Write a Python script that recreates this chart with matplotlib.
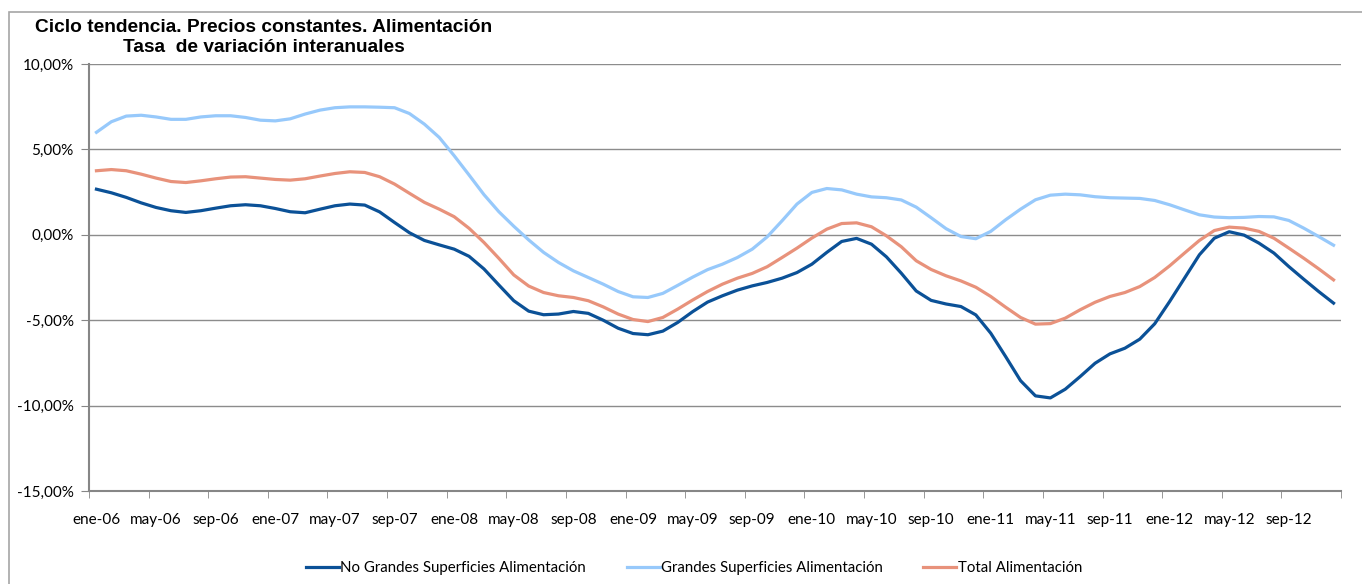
import numpy as np
import matplotlib.pyplot as plt
from matplotlib.patches import Rectangle

# datos: ene-06 .. dic-12 (84 meses)
meses = ['ene', 'feb', 'mar', 'abr', 'may', 'jun', 'jul', 'ago', 'sep', 'oct', 'nov', 'dic']
anios = ['06', '07', '08', '09', '10', '11', '12']
etiquetas = [m + '-' + a for a in anios for m in meses]

no_grandes = [2.67, 2.46, 2.19, 1.87, 1.60, 1.41, 1.31, 1.41, 1.56, 1.70, 1.76, 1.70,
              1.54, 1.35, 1.29, 1.50, 1.70, 1.80, 1.74, 1.34, 0.72, 0.12, -0.33, -0.59,
              -0.84, -1.26, -2.00, -2.94, -3.86, -4.47, -4.68, -4.64, -4.49, -4.60, -5.00, -5.47,
              -5.78, -5.85, -5.64, -5.13, -4.50, -3.94, -3.57, -3.24, -2.99, -2.79, -2.54, -2.21,
              -1.72, -1.03, -0.39, -0.21, -0.55, -1.29, -2.25, -3.29, -3.84, -4.05, -4.20, -4.69,
              -5.76, -7.13, -8.54, -9.43, -9.55, -9.04, -8.30, -7.52, -6.97, -6.64, -6.11, -5.21,
              -3.91, -2.54, -1.17, -0.20, 0.18, -0.02, -0.49, -1.07, -1.86, -2.60, -3.32, -4.00]

grandes = [6.00, 6.62, 6.95, 7.00, 6.90, 6.76, 6.76, 6.90, 6.97, 6.97, 6.87, 6.71,
           6.67, 6.79, 7.07, 7.30, 7.44, 7.49, 7.49, 7.47, 7.44, 7.10, 6.48, 5.70,
           4.63, 3.50, 2.35, 1.35, 0.50, -0.30, -1.03, -1.62, -2.11, -2.50, -2.89, -3.32,
           -3.63, -3.67, -3.43, -2.96, -2.48, -2.04, -1.72, -1.33, -0.84, -0.12, 0.82, 1.80,
           2.48, 2.71, 2.63, 2.38, 2.22, 2.17, 2.04, 1.62, 1.00, 0.36, -0.10, -0.23,
           0.20, 0.88, 1.50, 2.05, 2.32, 2.38, 2.34, 2.23, 2.17, 2.15, 2.13, 2.01,
           1.76, 1.46, 1.17, 1.04, 1.00, 1.02, 1.07, 1.05, 0.84, 0.39, -0.10, -0.61]

total = [3.75, 3.82, 3.75, 3.55, 3.32, 3.12, 3.06, 3.16, 3.28, 3.38, 3.40, 3.32,
         3.24, 3.20, 3.28, 3.44, 3.59, 3.69, 3.65, 3.40, 2.97, 2.43, 1.90, 1.50,
         1.06, 0.38, -0.45, -1.38, -2.35, -3.00, -3.38, -3.57, -3.67, -3.86, -4.22, -4.64,
         -4.96, -5.08, -4.84, -4.35, -3.82, -3.32, -2.89, -2.54, -2.26, -1.87, -1.33, -0.78,
         -0.19, 0.33, 0.66, 0.70, 0.47, -0.06, -0.70, -1.52, -2.03, -2.40, -2.70, -3.07,
         -3.61, -4.24, -4.84, -5.23, -5.20, -4.88, -4.39, -3.95, -3.61, -3.38, -3.03, -2.50,
         -1.82, -1.07, -0.33, 0.25, 0.45, 0.39, 0.20, -0.20, -0.78, -1.37, -1.99, -2.64]

series = ['No Grandes Superficies Alimentación', 'Grandes Superficies Alimentación', 'Total Alimentación']
colores = ['#0B5197', '#97C9FB', '#E8927B']

x = np.arange(len(etiquetas))

plt.rcParams['font.family'] = ['Lato', 'DejaVu Sans']

fig = plt.figure(figsize=(13.62, 5.84), dpi=100)
ax = fig.add_axes([89 / 1362, 1 - 491 / 584, 1252 / 1362, 427 / 584])

# marco del grafico
fig.patches.append(Rectangle((9 / 1362, -0.1), 1.2, 1 - 12 / 584 + 0.1, transform=fig.transFigure,
                             fill=False, edgecolor='#A6A6A6', linewidth=1.2))

for datos, nombre, c in zip([no_grandes, grandes, total], series, colores):
    ax.plot(x, datos, color=c, linewidth=2.3, label=nombre, solid_joinstyle='round')

# ejes
ax.set_xlim(-0.5, len(x) - 0.5)
ax.set_ylim(-15, 10)
ax.set_yticks([-15, -10, -5, 0, 5, 10])
ax.set_yticklabels(['-15,00%', '-10,00%', '-5,00%', '0,00%', '5,00%', '10,00%'], fontsize=11)
ax.grid(axis='y', color='#8C8C8C', linewidth=1)
ax.set_axisbelow(True)

ax.set_xticks(x[::4])
ax.set_xticklabels(etiquetas[::4], fontsize=11)
ax.set_xticks(np.arange(-0.5, len(x), 4), minor=True)
ax.tick_params(axis='x', which='major', length=0, pad=16)
ax.tick_params(axis='x', which='minor', length=5, color='#868686', direction='out')
ax.tick_params(axis='y', length=6, color='#868686', pad=5)

for lado in ['top', 'right']:
    ax.spines[lado].set_visible(False)
for lado in ['left', 'bottom']:
    ax.spines[lado].set_color('#868686')
    ax.spines[lado].set_linewidth(1.5)

# titulos
fig.text(264 / 1362, 1 - 27 / 584, 'Ciclo tendencia. Precios constantes. Alimentación',
         ha='center', va='center', fontsize=13.8, fontweight='bold', family='Liberation Sans')
fig.text(264 / 1362, 1 - 48 / 584, 'Tasa  de variación interanuales',
         ha='center', va='center', fontsize=13.8, fontweight='bold', family='Liberation Sans')

# leyenda
fig.legend(loc='center', bbox_to_anchor=(694 / 1362, 1 - 568 / 584), ncol=3, frameon=False,
           fontsize=10.8, handlelength=2.2, handletextpad=0.1, columnspacing=2.7)

plt.savefig('out.png', dpi=100)
